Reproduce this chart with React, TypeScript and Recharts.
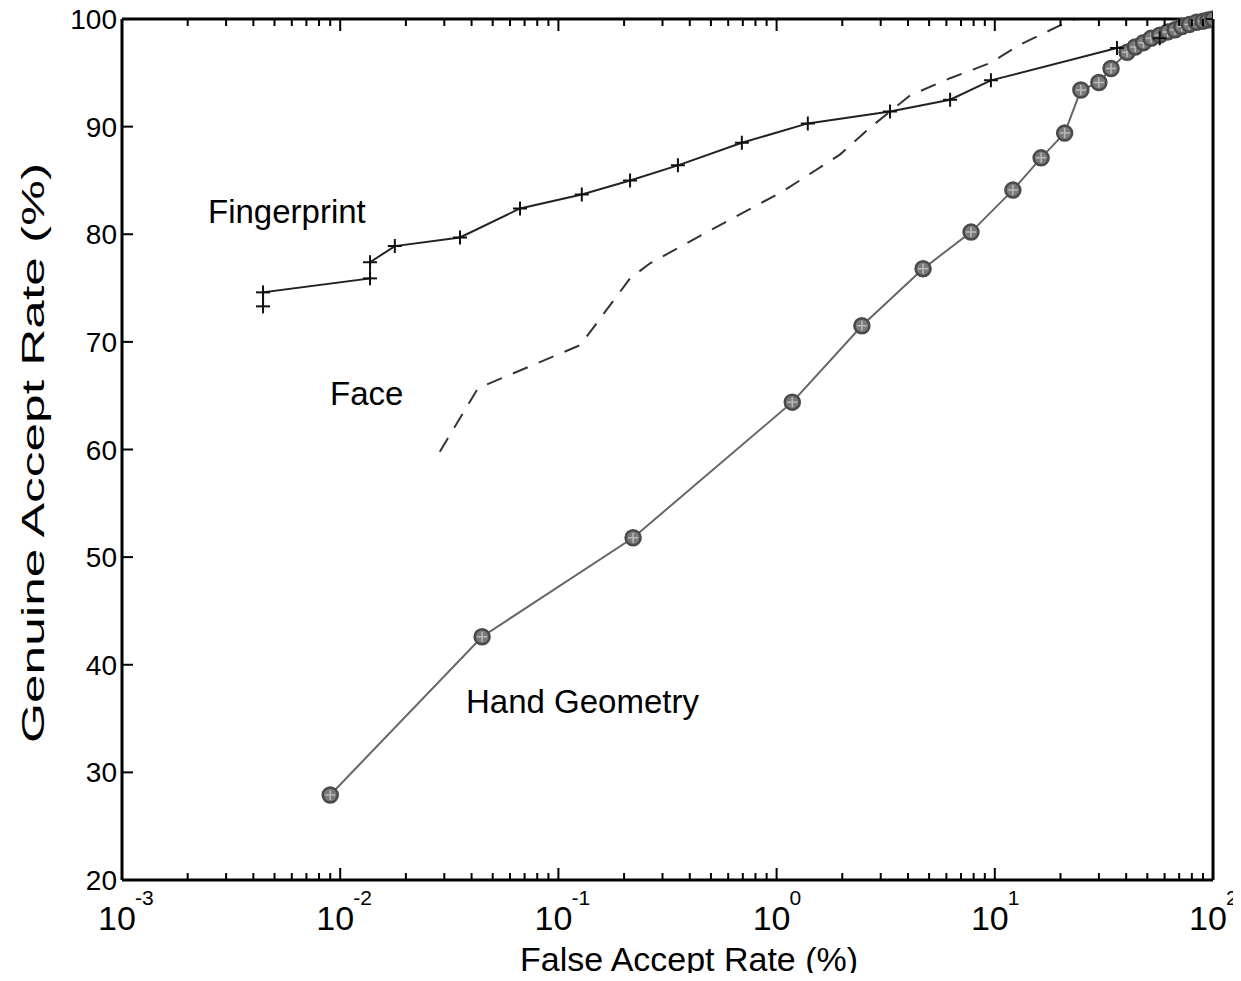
import React from "react";
import { LineChart, Line, XAxis, YAxis } from "recharts";

// ROC curves: false accept rate (%) vs genuine accept rate (%)
const fingerprint = [
  { far: 0.00443, gar: 73.3 },
  { far: 0.00443, gar: 74.6 },
  { far: 0.0137, gar: 75.9 },
  { far: 0.0137, gar: 77.4 },
  { far: 0.0178, gar: 78.9 },
  { far: 0.0354, gar: 79.7 },
  { far: 0.0667, gar: 82.4 },
  { far: 0.128, gar: 83.7 },
  { far: 0.213, gar: 85.0 },
  { far: 0.353, gar: 86.4 },
  { far: 0.693, gar: 88.5 },
  { far: 1.39, gar: 90.3 },
  { far: 3.31, gar: 91.4 },
  { far: 6.24, gar: 92.5 },
  { far: 9.6, gar: 94.3 },
  { far: 36.3, gar: 97.3 },
  { far: 57, gar: 98.2 },
  { far: 100, gar: 100 },
];

const face = [
  { far: 0.0286, gar: 59.8 },
  { far: 0.0428, gar: 65.7 },
  { far: 0.126, gar: 69.7 },
  { far: 0.213, gar: 75.9 },
  { far: 0.263, gar: 77.3 },
  { far: 0.511, gar: 80.5 },
  { far: 1.07, gar: 84.0 },
  { far: 1.95, gar: 87.4 },
  { far: 2.68, gar: 89.9 },
  { far: 4.09, gar: 92.9 },
  { far: 6.24, gar: 94.5 },
  { far: 9.5, gar: 95.9 },
  { far: 13.0, gar: 97.6 },
  { far: 19.9, gar: 99.4 },
  { far: 23.3, gar: 100 },
  { far: 100, gar: 100 },
];

const handGeometry = [
  { far: 0.009, gar: 27.9 },
  { far: 0.0447, gar: 42.6 },
  { far: 0.22, gar: 51.8 },
  { far: 1.18, gar: 64.4 },
  { far: 2.46, gar: 71.5 },
  { far: 4.69, gar: 76.8 },
  { far: 7.78, gar: 80.2 },
  { far: 12.1, gar: 84.1 },
  { far: 16.3, gar: 87.1 },
  { far: 20.9, gar: 89.4 },
  { far: 24.8, gar: 93.4 },
  { far: 30.0, gar: 94.1 },
  { far: 34.1, gar: 95.4 },
  { far: 40.4, gar: 96.9 },
  { far: 44, gar: 97.4 },
  { far: 48, gar: 97.8 },
  { far: 52, gar: 98.2 },
  { far: 57, gar: 98.5 },
  { far: 62, gar: 98.8 },
  { far: 67, gar: 99.0 },
  { far: 72, gar: 99.3 },
  { far: 78, gar: 99.5 },
  { far: 84, gar: 99.7 },
  { far: 90, gar: 99.8 },
  { far: 95, gar: 99.9 },
  { far: 100, gar: 100 },
];

const decades = [0.001, 0.01, 0.1, 1, 10];
const minorSteps = [1, 2, 3, 4, 5, 6, 7, 8, 9];
const xTicks = [...decades.flatMap((d) => minorSteps.map((m) => d * m)), 100];
const yTicks = [20, 30, 40, 50, 60, 70, 80, 90, 100];

const FONT = "Arial, 'Liberation Sans', Helvetica, sans-serif";

const isDecade = (v: number) => {
  const l = Math.log10(v);
  return Math.abs(l - Math.round(l)) < 1e-6;
};

const BottomTick = (props: any) => {
  const { x, y, payload } = props;
  const v = payload.value;
  const major = isDecade(v);
  return (
    <g>
      <line x1={x} x2={x} y1={y} y2={y - (major ? 12 : 7)} stroke="#000" strokeWidth={2} />
      {major && (
        <g fontFamily={FONT} fill="#000">
          <text x={x - 5} y={y + 50} fontSize={34} textAnchor="middle">10</text>
          <text x={x + 13} y={y + 25} fontSize={21} textAnchor="start">
            {Math.round(Math.log10(v))}
          </text>
        </g>
      )}
    </g>
  );
};

const TopTick = (props: any) => {
  const { x, y, payload } = props;
  const major = isDecade(payload.value);
  return <line x1={x} x2={x} y1={y} y2={y + (major ? 12 : 7)} stroke="#000" strokeWidth={2} />;
};

const LeftTick = (props: any) => {
  const { x, y, payload } = props;
  return (
    <g>
      <line x1={x} x2={x + 11} y1={y} y2={y} stroke="#000" strokeWidth={2} />
      <text x={x - 5} y={y} dy="0.36em" fontSize={28} fontFamily={FONT} textAnchor="end" fill="#000">
        {payload.value}
      </text>
    </g>
  );
};

const RightTick = (props: any) => {
  const { x, y } = props;
  return <line x1={x} x2={x - 11} y1={y} y2={y} stroke="#000" strokeWidth={2} />;
};

const PlusDot = (props: any) => {
  const { cx, cy, index } = props;
  if (cx == null || cy == null) return <g key={index} />;
  return (
    <g key={index} stroke="#111" strokeWidth={2}>
      <line x1={cx - 7} x2={cx + 7} y1={cy} y2={cy} />
      <line x1={cx} x2={cx} y1={cy - 7} y2={cy + 7} />
    </g>
  );
};

const CircleDot = (props: any) => {
  const { cx, cy, index } = props;
  if (cx == null || cy == null) return <g key={index} />;
  return (
    <g key={index}>
      <circle cx={cx} cy={cy} r={7.5} fill="#7a7a7a" stroke="#4a4a4a" strokeWidth={2.5} />
      <line x1={cx - 5} x2={cx + 5} y1={cy} y2={cy} stroke="#bbb" strokeWidth={1.5} />
      <line x1={cx} x2={cx} y1={cy - 5} y2={cy + 5} stroke="#bbb" strokeWidth={1.5} />
    </g>
  );
};

const W = 1233;
const H = 973;

export default function App() {
  return (
    <div style={{ position: "relative", width: W, height: H, marginTop: -8 }}>
      <LineChart width={W} height={H} margin={{ top: 18, right: 27, bottom: 0, left: 0 }}>
        <XAxis
          xAxisId="bottom"
          dataKey="far"
          type="number"
          scale="log"
          domain={[0.001, 100]}
          allowDataOverflow
          ticks={xTicks}
          interval={0}
          height={93}
          tickSize={0}
          tickMargin={0}
          tick={<BottomTick />}
          axisLine={{ stroke: "#000", strokeWidth: 3 }}
        />
        <XAxis
          xAxisId="top"
          orientation="top"
          dataKey="far"
          type="number"
          scale="log"
          domain={[0.001, 100]}
          allowDataOverflow
          ticks={xTicks}
          interval={0}
          height={1}
          tickSize={0}
          tickMargin={0}
          tick={<TopTick />}
          axisLine={{ stroke: "#000", strokeWidth: 3 }}
        />
        <YAxis
          yAxisId="left"
          type="number"
          domain={[20, 100]}
          ticks={yTicks}
          interval={0}
          width={114}
          tickSize={0}
          tickMargin={0}
          tick={<LeftTick />}
          axisLine={{ stroke: "#000", strokeWidth: 3 }}
        />
        <YAxis
          yAxisId="right"
          orientation="right"
          type="number"
          domain={[20, 100]}
          ticks={yTicks}
          interval={0}
          width={1}
          tickSize={0}
          tickMargin={0}
          tick={<RightTick />}
          axisLine={{ stroke: "#000", strokeWidth: 3 }}
        />
        <Line
          xAxisId="bottom"
          yAxisId="left"
          data={face}
          dataKey="gar"
          type="linear"
          stroke="#333"
          strokeWidth={2}
          strokeDasharray="16 12"
          dot={false}
          isAnimationActive={false}
        />
        <Line
          xAxisId="bottom"
          yAxisId="left"
          data={handGeometry}
          dataKey="gar"
          type="linear"
          stroke="#666"
          strokeWidth={2}
          dot={<CircleDot />}
          isAnimationActive={false}
        />
        <Line
          xAxisId="bottom"
          yAxisId="left"
          data={fingerprint}
          dataKey="gar"
          type="linear"
          stroke="#222"
          strokeWidth={2}
          dot={<PlusDot />}
          isAnimationActive={false}
        />
      </LineChart>
      <svg
        width={1225}
        height={981}
        style={{ position: "absolute", left: 0, top: 0, pointerEvents: "none" }}
      >
        <g fontFamily={FONT} fill="#000">
          <text x={200} y={223} fontSize={33}>Fingerprint</text>
          <text x={322} y={405} fontSize={33}>Face</text>
          <text x={458} y={713} fontSize={33}>Hand Geometry</text>
          <text
            x={681}
            y={971}
            fontSize={34}
            textAnchor="middle"
            textLength={338}
            lengthAdjust="spacingAndGlyphs"
          >
            False Accept Rate (%)
          </text>
          <text
            x={36}
            y={453}
            fontSize={31}
            textAnchor="middle"
            textLength={580}
            lengthAdjust="spacingAndGlyphs"
            transform="rotate(-90 36 453)"
          >
            Genuine Accept Rate (%)
          </text>
        </g>
      </svg>
    </div>
  );
}
